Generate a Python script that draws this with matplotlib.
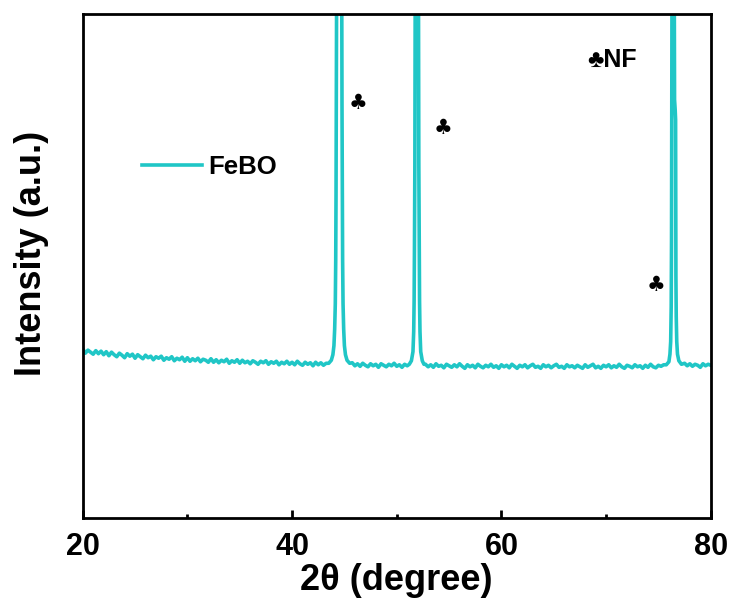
import numpy as np
import matplotlib
matplotlib.use('Agg')
import matplotlib.pyplot as plt
from matplotlib.ticker import MultipleLocator

# XRD pattern (2theta in degrees, intensity in a.u.)
# noisy background pieces, sampled every 0.25 degree
bg1_x = np.arange(20.0, 43.26, 0.25)
bg1_y = [336, 327, 333, 329, 325, 332, 326, 331, 324, 330,
         322, 329, 324, 320, 327, 323, 318, 326, 321, 325,
         317, 324, 320, 316, 323, 318, 321, 314, 320, 317,
         321, 313, 318, 315, 320, 312, 317, 314, 319, 311,
         318, 311, 316, 312, 317, 310, 315, 313, 309, 316,
         309, 314, 308, 313, 310, 315, 307, 312, 309, 314,
         307, 313, 308, 311, 306, 312, 309, 305, 311, 308,
         312, 305, 310, 307, 311, 304, 309, 306, 311, 305,
         309, 304, 311, 306, 303, 309, 305, 308, 302, 309,
         304, 308, 303, 307]
bg2_x = np.arange(45.75, 51.01, 0.25)
bg2_y = [308, 302, 306, 301, 307, 303, 300, 306, 302, 305, 299,
         306, 303, 300, 305, 302, 307, 301, 304, 299, 305, 302]
bg3_x = np.arange(52.75, 75.51, 0.25)
bg3_y = [305, 300, 304, 299, 306, 301, 303, 298, 305, 302,
         299, 304, 300, 306, 301, 297, 304, 300, 303, 298,
         305, 301, 298, 303, 300, 305, 299, 302, 297, 304,
         300, 303, 298, 305, 301, 297, 303, 300, 304, 298,
         302, 305, 299, 301, 297, 304, 300, 303, 298, 302,
         305, 299, 301, 297, 304, 300, 302, 298, 303, 300,
         297, 304, 299, 302, 305, 298, 301, 297, 303, 300,
         304, 298, 302, 299, 305, 300, 297, 303, 301, 298,
         304, 300, 302, 297, 303, 299, 305, 300, 298, 303,
         301, 304]
bg4_x = np.arange(77.5, 80.01, 0.25)
bg4_y = [307, 302, 306, 301, 305, 303, 299, 306, 302, 305, 303]

# diffraction peaks (Ni foam)
pk1_x = [43.5, 43.75, 43.9, 44.0, 44.07, 44.13, 44.17, 44.2, 44.23, 44.25,
         44.29, 44.38, 44.5, 44.62, 44.71, 44.75, 44.77, 44.8, 44.83, 44.87,
         44.93, 45.0, 45.1, 45.25, 45.5]
pk1_y = [307, 313, 324, 342, 375, 425, 510, 640, 820, 1000,
         1500, 2200, 2500, 2200, 1500, 1000, 820, 640, 510, 425,
         375, 342, 324, 313, 307]
pk2_x = [51.2, 51.4, 51.55, 51.62, 51.66, 51.69, 51.73, 51.76, 51.8, 51.86,
         51.92, 51.98, 52.04, 52.08, 52.11, 52.15, 52.18, 52.22, 52.29, 52.44,
         52.6]
pk2_y = [305, 312, 330, 370, 430, 530, 700, 1000, 1500, 2000,
         2200, 2000, 1500, 1000, 700, 530, 430, 370, 330, 312,
         305]
pk3_x = [75.75, 76.0, 76.1, 76.17, 76.22, 76.25, 76.27, 76.29, 76.33, 76.4,
         76.46, 76.5, 76.52, 76.54, 76.6, 76.64, 76.65, 76.66, 76.67, 76.7,
         76.75, 76.82, 76.95, 77.2]
pk3_y = [304, 310, 325, 350, 420, 550, 750, 1000, 1500, 2000,
         1700, 1400, 1000, 830, 810, 790, 700, 600, 480, 400,
         350, 325, 312, 305]

two_theta = np.concatenate([bg1_x, pk1_x, bg2_x, pk2_x, bg3_x, pk3_x, bg4_x])
intensity = np.concatenate([bg1_y, pk1_y, bg2_y, pk2_y, bg3_y, pk3_y, bg4_y])

x_ticks = [20, 40, 60, 80]

# club markers over the peaks
club_x = [46.3, 54.4, 74.8]
club_y = [823, 774, 462]

line_color = '#20C6C6'

plt.rcParams['font.family'] = ['Liberation Sans', 'DejaVu Sans']
plt.rcParams['font.weight'] = 'bold'

fig = plt.figure(figsize=(7.32, 6.04), dpi=100)
ax = fig.add_axes([0.113, 0.1424, 0.858, 0.8344])

ax.plot(two_theta, intensity, color=line_color, lw=2.6, label='FeBO')

ax.set_xlim(20, 80)
ax.set_ylim(0, 1000)
ax.set_xticks(x_ticks)
ax.xaxis.set_minor_locator(MultipleLocator(10))
ax.set_yticks([])
ax.tick_params(axis='x', which='major', direction='in', length=6, width=2,
               labelsize=22, pad=10)
ax.tick_params(axis='x', which='minor', direction='in', length=3, width=2)
for lab in ax.get_xticklabels():
    lab.set_fontweight('bold')
for sp in ax.spines.values():
    sp.set_linewidth(2)

ax.set_xlabel('2θ (degree)', fontsize=26, fontweight='bold')
ax.set_ylabel('Intensity (a.u.)', fontsize=26, fontweight='bold')
ax.xaxis.set_label_coords(0.5, -0.09)
ax.yaxis.set_label_coords(-0.053, 0.524)

for cx, cy in zip(club_x, club_y):
    ax.text(cx, cy, '♣', fontsize=15, ha='center', va='center',
            family=['DejaVu Sans'])
ax.text(70.6, 909, '♣NF', fontsize=18, fontweight='bold', ha='center', va='center')

ax.legend(loc='center left', bbox_to_anchor=(0.094, 0.697), frameon=False,
          borderpad=0, borderaxespad=0, handlelength=2.35, handletextpad=0.22,
          prop={'size': 18.5, 'weight': 'bold'})

fig.savefig('out.png', dpi=100)
